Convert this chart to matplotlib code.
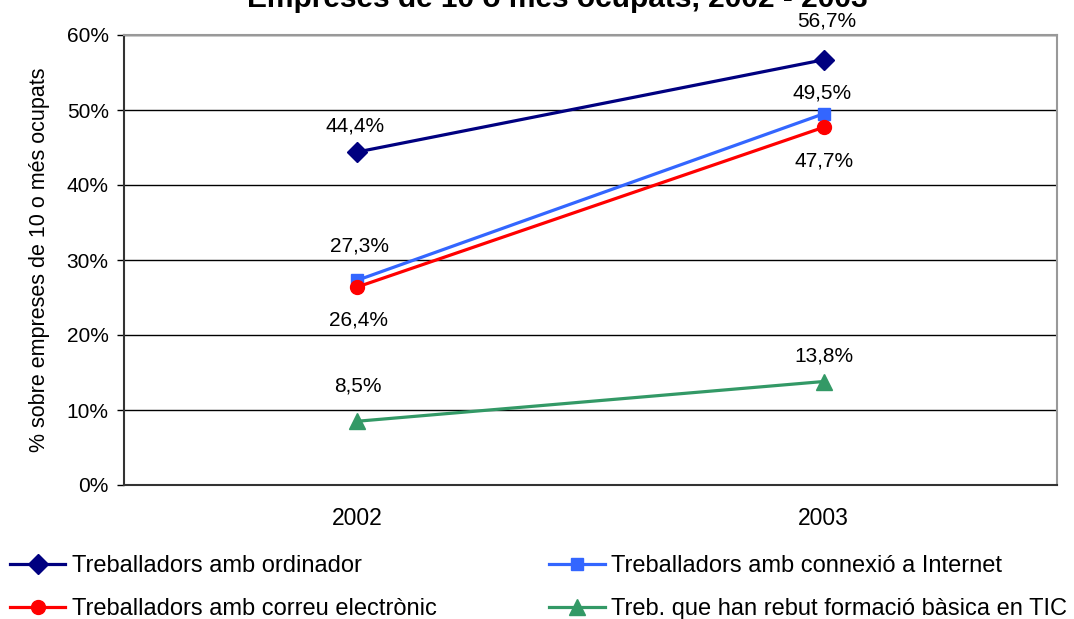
import numpy as np
import matplotlib
matplotlib.use('Agg')
import matplotlib.pyplot as plt
from matplotlib.ticker import FuncFormatter

years = ['2002', '2003']
ordinador = [44.4, 56.7]
internet = [27.3, 49.5]
correu = [26.4, 47.7]
formacio = [8.5, 13.8]

names = ['Treballadors amb ordinador',
         'Treballadors amb connexió a Internet',
         'Treballadors amb correu electrònic',
         'Treb. que han rebut formació bàsica en TIC']

plt.rcParams['font.family'] = ['Liberation Sans', 'DejaVu Sans']

fig = plt.figure(figsize=(10.74, 6.19), dpi=100)
ax = fig.add_axes([124 / 1074, 1 - 485 / 619, (1057 - 124) / 1074, (485 - 35) / 619])

xs = np.arange(len(years))
series = [
    (ordinador, '#000080', 'D', 10, [(-2, 26), (3, 39)]),
    (internet, '#3366FF', 's', 9, [(2, 34), (-2, 21)]),
    (correu, '#FF0000', 'o', 10, [(1, -33), (0, -34)]),
    (formacio, '#339966', '^', 11, [(1, 35), (0, 25)]),
]

lines = []
for (vals, col, mk, ms, offs), name in zip(series, names):
    l, = ax.plot(xs, vals, color=col, marker=mk, markersize=ms, lw=2.3,
                 label=name, zorder=3)
    lines.append(l)
    for x, v, (dx, dy) in zip(xs, vals, offs):
        ax.annotate('{:.1f}%'.format(v).replace('.', ','), (x, v),
                    xytext=(dx * 0.72, dy * 0.72), textcoords='offset points',
                    ha='center', va='center', fontsize=15)

ax.set_xlim(-0.5, 1.5)
ax.set_ylim(0, 60)
ax.set_xticks(xs)
ax.set_xticklabels(years, fontsize=16.5)
ax.set_yticks(np.arange(0, 61, 10))
ax.yaxis.set_major_formatter(FuncFormatter(lambda v, p: '{:d}%'.format(int(v))))
ax.tick_params(axis='y', labelsize=15, length=5, width=1, direction='out', pad=6)
ax.tick_params(axis='x', length=0, pad=16)
ax.yaxis.grid(True, color='black', lw=1)
ax.set_axisbelow(True)
for s in ['top', 'right']:
    ax.spines[s].set_color('#999999')
    ax.spines[s].set_linewidth(1.5)
for s in ['left', 'bottom']:
    ax.spines[s].set_color('#333333')
    ax.spines[s].set_linewidth(1.5)

ax.set_ylabel('% sobre empreses de 10 o més ocupats', fontsize=15.5, labelpad=12)

# title sits partly above the canvas, as in the original
fig.text(557 / 1074, 1 - 7 / 619, 'Empreses de 10 o més ocupats, 2002 - 2003',
         ha='center', va='baseline', fontsize=21.5, fontweight='bold')

order = [0, 2, 1, 3]
fig.legend([lines[i] for i in order], [names[i] for i in order],
           loc='upper left', bbox_to_anchor=(10 / 1074, 1 - 555 / 619),
           ncol=2, frameon=False, fontsize=17, handlelength=2.35,
           handletextpad=0.28, columnspacing=4.75, labelspacing=0.88,
           borderaxespad=0, borderpad=0)

plt.savefig('out.png', dpi=100)
plt.close()
